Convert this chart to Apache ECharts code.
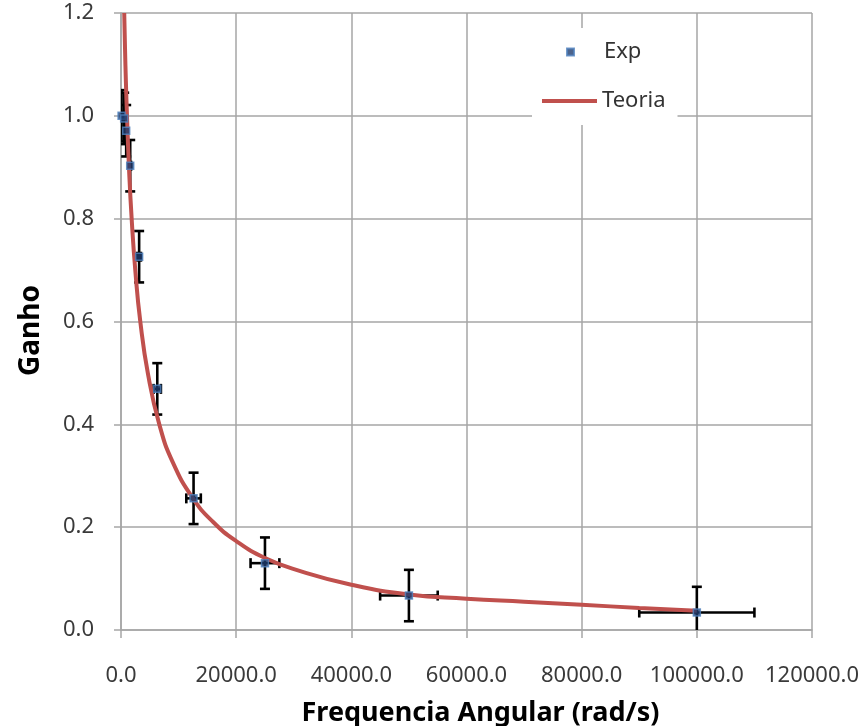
<!DOCTYPE html>
<html>
<head>
<meta charset="utf-8">
<script src="https://cdn.jsdelivr.net/npm/echarts@6/dist/echarts.min.js"></script>
<style>
html,body{margin:0;padding:0;background:#fff;}
#chart{width:866px;height:726px;}
</style>
</head>
<body>
<div id="chart"></div>
<script>
var expFreq = [100, 550, 900, 1600, 3150, 6300, 12600, 25000, 50000, 100000];
var expGain = [1.0, 0.995, 0.971, 0.903, 0.726, 0.469, 0.256, 0.130, 0.067, 0.034];
var expFreqErr = [10, 55, 90, 160, 315, 630, 1260, 2500, 5000, 10000];
var expGainErr = [0.05, 0.05, 0.05, 0.05, 0.05, 0.05, 0.05, 0.05, 0.05, 0.05];

// Theory curve
var theoFreq = [560, 700, 850, 1040, 1400, 1850, 2500, 3350, 4700, 6650, 9000, 12500, 16000, 20000, 25000, 31000, 40000, 50000, 60000, 70000, 80000, 90000, 100000];
var theoGain = [1.2, 1.13, 1.066, 1.0, 0.896, 0.8, 0.697, 0.6, 0.497, 0.4, 0.326, 0.256, 0.210, 0.173, 0.140, 0.115, 0.088, 0.069, 0.061, 0.055, 0.049, 0.043, 0.0375];

var xTicks = [0, 20000, 40000, 60000, 80000, 100000, 120000];
var yTicks = [0, 0.2, 0.4, 0.6, 0.8, 1.0, 1.2];

var expData = expFreq.map(function (x, i) { return [x, expGain[i]]; });
var errData = expFreq.map(function (x, i) { return [x, expGain[i], expFreqErr[i], expGainErr[i]]; });
var theoData = theoFreq.map(function (x, i) { return [x, theoGain[i]]; });

var chart = echarts.init(document.getElementById('chart'));
var FONT = 'Noto Sans';
var gridColor = '#a6a6a6';

function renderErr(params, api) {
  var x = api.value(0), y = api.value(1), ex = api.value(2), ey = api.value(3);
  var c = api.coord([x, y]);
  var top = api.coord([x, y + ey]);
  var bot = api.coord([x, y - ey]);
  var lft = api.coord([x - ex, y]);
  var rgt = api.coord([x + ex, y]);
  var cap = 5;
  var st = { stroke: '#000', lineWidth: 2.6 };
  return {
    type: 'group',
    children: [
      { type: 'line', shape: { x1: c[0], y1: top[1], x2: c[0], y2: bot[1] }, style: st },
      { type: 'line', shape: { x1: c[0] - cap, y1: top[1], x2: c[0] + cap, y2: top[1] }, style: st },
      { type: 'line', shape: { x1: c[0] - cap, y1: bot[1], x2: c[0] + cap, y2: bot[1] }, style: st },
      { type: 'line', shape: { x1: lft[0], y1: c[1], x2: rgt[0], y2: c[1] }, style: st },
      { type: 'line', shape: { x1: lft[0], y1: c[1] - cap, x2: lft[0], y2: c[1] + cap }, style: st },
      { type: 'line', shape: { x1: rgt[0], y1: c[1] - cap, x2: rgt[0], y2: c[1] + cap }, style: st }
    ]
  };
}

var legendText = { fontFamily: FONT, fontSize: 22, color: '#333', lineHeight: 24 };

var option = {
  backgroundColor: '#fff',
  animation: false,
  grid: { left: 121, right: 54, top: 13, bottom: 96, containLabel: false, outerBoundsMode: 'none' },
  legend: [
    {
      orient: 'vertical',
      left: 532, top: 28,
      padding: [61, 12, 12, 10],
      backgroundColor: '#fff',
      itemWidth: 55, itemHeight: 4,
      icon: 'rect',
      textStyle: legendText,
      data: ['Teoria']
    },
    {
      orient: 'vertical',
      left: 566, top: 40,
      padding: 0,
      itemWidth: 7, itemHeight: 7,
      icon: 'rect',
      textStyle: Object.assign({ padding: [0, 0, 0, 25] }, legendText),
      data: ['Exp']
    }
  ],
  xAxis: {
    type: 'value', min: xTicks[0], max: xTicks[xTicks.length - 1], interval: xTicks[1] - xTicks[0],
    name: 'Frequencia Angular (rad/s)', nameLocation: 'middle', nameGap: 70,
    nameTextStyle: { fontFamily: FONT, fontSize: 27, fontWeight: 'bold', color: '#000', padding: [0, 0, 0, 28] },
    axisLine: { show: true, onZero: false, lineStyle: { color: gridColor, width: 1.5 } },
    axisTick: { show: true, length: 8, lineStyle: { color: gridColor, width: 1.5 } },
    axisLabel: { margin: 35, fontFamily: FONT, fontSize: 22, color: '#3a3a3a', formatter: function (v) { return v.toFixed(1); } },
    splitLine: { show: true, lineStyle: { color: gridColor, width: 1.5 } }
  },
  yAxis: {
    type: 'value', min: yTicks[0], max: yTicks[yTicks.length - 1], interval: 0.2,
    name: 'Ganho', nameLocation: 'middle', nameGap: 76,
    nameTextStyle: { fontFamily: FONT, fontSize: 28, fontWeight: 'bold', color: '#000', padding: [0, 18, 0, 0] },
    axisLine: { show: true, onZero: false, lineStyle: { color: gridColor, width: 1.5 } },
    axisTick: { show: true, length: 7, lineStyle: { color: gridColor, width: 1.5 } },
    axisLabel: { margin: 27, fontFamily: FONT, fontSize: 22, color: '#3a3a3a', formatter: function (v) { return v.toFixed(1); } },
    splitLine: { show: true, lineStyle: { color: gridColor, width: 1.5 } }
  },
  series: [
    {
      name: 'err', type: 'custom', renderItem: renderErr, data: errData, z: 2,
      encode: { x: 0, y: 1 }, clip: true
    },
    {
      name: 'Teoria', type: 'line', data: theoData, smooth: 0.5, showSymbol: false, symbol: 'none',
      lineStyle: { color: '#c0504d', width: 4 }, itemStyle: { color: '#c0504d' }, z: 3, clip: true
    },
    {
      name: 'Exp', type: 'scatter', data: expData, symbol: 'rect', symbolSize: 7,
      itemStyle: { color: '#1f3c6e', borderColor: '#4f81bd', borderWidth: 1.5 }, z: 4
    }
  ]
};
chart.setOption(option);
</script>
</body>
</html>
